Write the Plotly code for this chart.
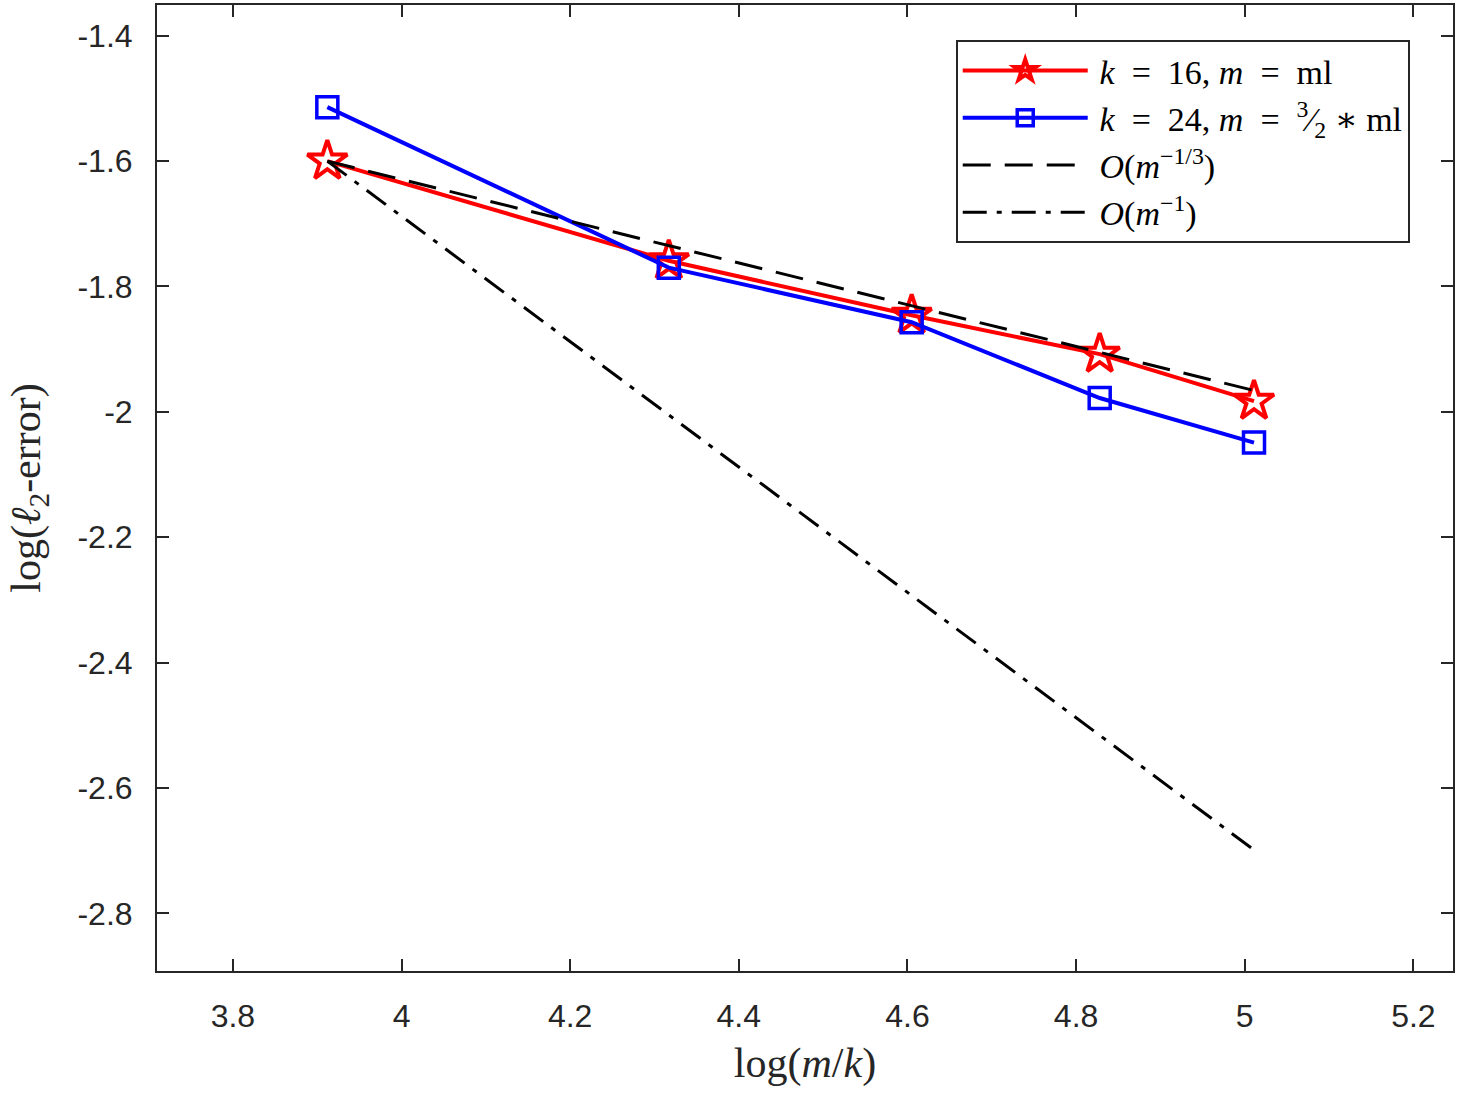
import numpy as np
import plotly.graph_objects as go

# data (log(m/k) values, m/k = 50, 75, 100, 125, 150)
x_vals = [3.912, 4.317, 4.605, 4.828, 5.011]
y_k16 = [-1.600, -1.759, -1.846, -1.908, -1.983]
y_k24 = [-1.514, -1.770, -1.857, -1.978, -2.049]
x_ref = [3.912, 5.011]
y_ref_third = [-1.600, -1.966]
y_ref_one = [-1.600, -2.699]

xticks = [3.8, 4.0, 4.2, 4.4, 4.6, 4.8, 5.0, 5.2]
xtick_text = ["3.8", "4", "4.2", "4.4", "4.6", "4.8", "5", "5.2"]
yticks = [-2.8, -2.6, -2.4, -2.2, -2.0, -1.8, -1.6, -1.4]
ytick_text = ["-2.8", "-2.6", "-2.4", "-2.2", "-2", "-1.8", "-1.6", "-1.4"]

sp = "\u2002"
names = [
    f"\u2009<i>k</i>{sp}={sp}16, <i>m</i>{sp}={sp}ml",
    f"\u2009<i>k</i>{sp}={sp}24, <i>m</i>{sp}={sp}<sup>3</sup>⁄<sub>2</sub> ∗ ml",
    "\u2009<i>O</i>(<i>m</i><sup>−1/3</sup>)",
    "\u2009<i>O</i>(<i>m</i><sup>−1</sup>)",
]

fig = go.Figure()
fig.add_trace(go.Scatter(x=x_vals, y=y_k16, mode="lines+markers", name=names[0],
                         line=dict(color="#FF0000", width=4),
                         marker=dict(symbol="star-open", size=30, color="#FF0000",
                                     line=dict(width=4, color="#FF0000"))))
fig.add_trace(go.Scatter(x=x_vals, y=y_k24, mode="lines+markers", name=names[1],
                         line=dict(color="#0000FF", width=4),
                         marker=dict(symbol="square-open", size=21, color="#0000FF",
                                     line=dict(width=3.5, color="#0000FF"))))
fig.add_trace(go.Scatter(x=x_ref, y=y_ref_third, mode="lines", name=names[2],
                         line=dict(color="black", width=3, dash="28px,14px")))
fig.add_trace(go.Scatter(x=x_ref, y=y_ref_one, mode="lines", name=names[3],
                         line=dict(color="black", width=3, dash="24px,10px,5px,10px")))

axis_common = dict(
    showgrid=False, zeroline=False, showline=True, linecolor="#262626", linewidth=2,
    mirror="ticks", ticks="inside", ticklen=12, tickwidth=1.5, tickcolor="#262626",
    tickfont=dict(family="Liberation Sans, Arial", size=32, color="#262626"),
)

fig.update_layout(
    width=1458, height=1100,
    margin=dict(l=157, r=3, t=3, b=129),
    paper_bgcolor="white", plot_bgcolor="white",
    showlegend=True,
    legend=dict(x=0.6163, y=0.9638, xanchor="left", yanchor="top",
                bgcolor="white", bordercolor="#262626", borderwidth=2,
                font=dict(family="Liberation Serif, DejaVu Serif", size=34, color="black"),
                itemwidth=125, tracegroupgap=0),
    xaxis=dict(range=[3.71, 5.247], tickvals=xticks, ticktext=xtick_text,
               ticklabelstandoff=16,
               title=dict(text="log(<i>m</i>/<i>k</i>)", standoff=14,
                          font=dict(family="Liberation Serif, DejaVu Serif", size=42, color="#262626")),
               **axis_common),
    yaxis=dict(range=[-2.892, -1.351], tickvals=yticks, ticktext=ytick_text,
               ticklabelstandoff=16,
               title=dict(text="log(<i>ℓ</i><sub>2</sub>-error)", standoff=24,
                          font=dict(family="Liberation Serif, DejaVu Serif", size=42, color="#262626")),
               **axis_common),
)

fig.write_html("out.html")
